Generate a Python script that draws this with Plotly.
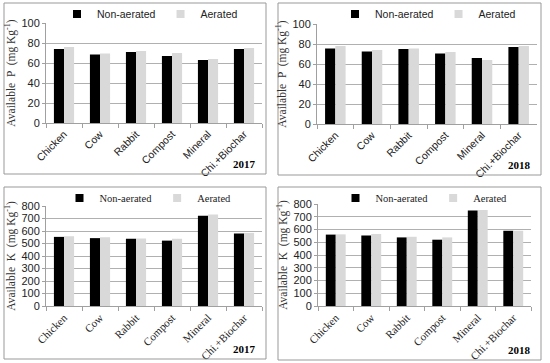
import plotly.graph_objects as go

categories = ["Chicken", "Cow", "Rabbit", "Compost", "Mineral", "Chi.+Biochar"]
series_names = ["Non-aerated", "Aerated"]

p2017_non = [74, 68.5, 71, 67, 63, 74]
p2017_aer = [76, 69.5, 72, 70, 64, 75]
p2018_non = [75.5, 72.5, 75, 70.5, 66, 77]
p2018_aer = [78, 74, 75.5, 72, 64, 78]
k2017_non = [553, 543, 538, 523, 722, 580]
k2017_aer = [558, 550, 540, 538, 732, 585]
k2018_non = [560, 553, 538, 520, 750, 590]
k2018_aer = [562, 565, 543, 538, 752, 590]

years = ["2017", "2018", "2017", "2018"]
p_ticks = [0, 20, 40, 60, 80, 100]
k_ticks = [0, 100, 200, 300, 400, 500, 600, 700, 800]

W, H = 550, 363
SANS = "Liberation Sans, Arial, sans-serif"
SERIF = "Liberation Serif, Times New Roman, serif"
BLACK = "#000000"
GREY = "#d9d9d9"
GRID = "#b0b0b0"

panels = [
    dict(box=(4, 3, 266, 174), plot=(46, 23, 262, 123), data=(p2017_non, p2017_aer),
         ticks=p_ticks, rng=[0, 100], nut="P", catfont=SANS, legfont=SANS, legx=150),
    dict(box=(278, 3, 541, 175), plot=(317, 24, 537, 124), data=(p2018_non, p2018_aer),
         ticks=p_ticks, rng=[0, 100], nut="P", catfont=SANS, legfont=SANS, legx=428),
    dict(box=(4, 187, 266, 359), plot=(46, 206, 262, 306), data=(k2017_non, k2017_aer),
         ticks=k_ticks, rng=[0, 800], nut="K", catfont=SERIF, legfont=SERIF, legx=148),
    dict(box=(278, 187, 541, 360), plot=(318, 204, 531, 306), data=(k2018_non, k2018_aer),
         ticks=k_ticks, rng=[0, 800], nut="K", catfont=SERIF, legfont=SERIF, legx=424),
]

def px(x):
    return x / W

def py(y):
    return 1 - y / H

fig = go.Figure()
layout = dict(
    width=W, height=H, autosize=False,
    margin=dict(l=0, r=0, t=0, b=0, autoexpand=False),
    paper_bgcolor="white", plot_bgcolor="white",
    barmode="group", bargap=0.44, bargroupgap=0,
    shapes=[], annotations=[], showlegend=True,
)

for i, p in enumerate(panels):
    n = i + 1
    xa = "x" if n == 1 else f"x{n}"
    ya = "y" if n == 1 else f"y{n}"
    leg = "legend" if n == 1 else f"legend{n}"
    x0, y0, x1, y1 = p["plot"]
    for name, vals, col in zip(series_names, p["data"], [BLACK, GREY]):
        fig.add_trace(go.Bar(
            x=categories, y=vals, name=name, marker=dict(color=col, line=dict(width=0)),
            xaxis=xa, yaxis=ya, showlegend=False,
        ))
        fig.add_trace(go.Scatter(
            x=[None], y=[None], mode="markers", name=name,
            marker=dict(symbol="square", size=8, color=col),
            xaxis=xa, yaxis=ya, legend=leg, showlegend=True, hoverinfo="skip",
        ))
    xkey = "xaxis" if n == 1 else f"xaxis{n}"
    ykey = "yaxis" if n == 1 else f"yaxis{n}"
    catsize = 10.5 if p["catfont"] == SANS else 11
    layout[xkey] = dict(
        domain=[px(x0), px(x1)], anchor=ya, type="category", automargin=False,
        showline=True, linecolor="#a0a0a0", linewidth=1,
        ticks="outside", tickson="boundaries", ticklen=4, tickcolor="#a0a0a0",
        tickangle=-45, tickfont=dict(family=p["catfont"], size=catsize, color="#222"),
        showgrid=False, fixedrange=True,
    )
    layout[ykey] = dict(
        domain=[py(y1), py(y0)], anchor=xa, range=p["rng"], automargin=False,
        tickvals=p["ticks"], tickfont=dict(family=SANS, size=11, color="#222"),
        showgrid=True, gridcolor=GRID, gridwidth=1, zeroline=False,
        showline=True, linecolor="#a0a0a0", linewidth=1,
        ticks="outside", ticklen=3, tickcolor="#a0a0a0",
        title=dict(text=f"Available  {p['nut']}  (mg Kg<sup>-1</sup>)",
                   font=dict(family=SERIF, size=11.5, color="#333"), standoff=3),
        fixedrange=True,
    )
    bx0, by0, bx1, by1 = p["box"]
    layout["shapes"].append(dict(
        type="rect", xref="paper", yref="paper",
        x0=px(bx0), x1=px(bx1), y0=py(by1), y1=py(by0),
        line=dict(color="#999999", width=1), fillcolor="rgba(0,0,0,0)", layer="above",
    ))
    layout["annotations"].append(dict(
        text=f"<b>{years[i]}</b>", xref="paper", yref="paper",
        x=px(bx1 - 8), y=py(by1 - 10), xanchor="right", yanchor="middle",
        showarrow=False, font=dict(family=SERIF, size=11, color="#000"),
    ))
    layout[leg] = dict(
        orientation="h", xref="paper", yref="paper",
        x=px(p["legx"]), y=py(by0 + 11), xanchor="center", yanchor="middle",
        font=dict(family=p["legfont"], size=10.5, color="#222"),
        bgcolor="rgba(0,0,0,0)", itemwidth=30,
        tracegroupgap=0, itemclick=False, itemdoubleclick=False,
    )

fig.update_layout(**layout)
fig.write_html("out.html", config={"displayModeBar": False},
               post_script="document.body.style.margin='0';")
